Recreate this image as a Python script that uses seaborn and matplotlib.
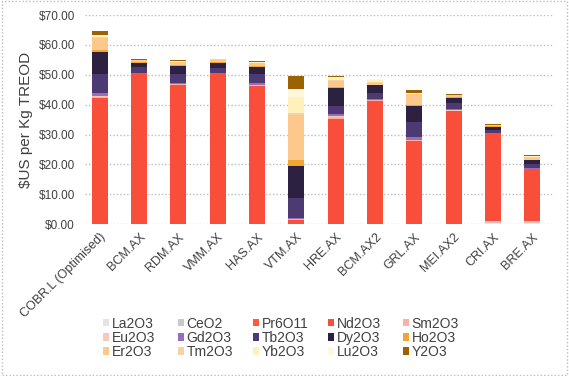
import numpy as np
import pandas as pd
import seaborn as sns
import matplotlib
matplotlib.use("Agg", force=True)
import matplotlib.pyplot as plt
from matplotlib.patches import Patch, Rectangle
from matplotlib.ticker import FuncFormatter

companies = ["COBR.L (Optimised)", "BCM.AX", "RDM.AX", "VMM.AX", "HAS.AX", "VTM.AX",
             "HRE.AX", "BCM.AX2", "GRL.AX", "MEI.AX2", "CRI.AX", "BRE.AX"]
oxides = ["La2O3", "CeO2", "Pr6O11", "Nd2O3", "Sm2O3", "Eu2O3", "Gd2O3", "Tb2O3",
          "Dy2O3", "Ho2O3", "Er2O3", "Tm2O3", "Yb2O3", "Lu2O3", "Y2O3"]

# $US per kg TREOD contribution of each oxide, one value per company
La2O3 = [0.0, 0.0, 0.0, 0.0, 0.0, 0.0, 0.0, 0.0, 0.0, 0.0, 0.5, 0.5]
CeO2 = [0.0, 0.0, 0.0, 0.0, 0.0, 0.0, 0.0, 0.0, 0.0, 0.0, 0.6, 0.6]
Pr6O11 = [0.0, 0.0, 0.0, 0.0, 0.0, 0.0, 0.0, 0.0, 0.0, 0.0, 0.0, 0.0]
Nd2O3 = [42.3, 50.2, 46.5, 50.2, 46.2, 1.5, 35.3, 41.2, 27.8, 37.8, 29.0, 17.2]
Sm2O3 = [0.3, 0.1, 0.3, 0.1, 0.3, 0.2, 0.5, 0.2, 0.3, 0.2, 0.1, 0.1]
Eu2O3 = [0.2, 0.0, 0.1, 0.0, 0.1, 0.1, 0.3, 0.1, 0.2, 0.1, 0.0, 0.0]
Gd2O3 = [1.0, 0.4, 0.5, 0.4, 0.5, 0.4, 0.8, 0.5, 0.8, 0.5, 0.3, 0.3]
Tb2O3 = [6.5, 1.8, 3.0, 1.7, 3.0, 6.6, 2.8, 1.9, 5.0, 1.8, 1.0, 1.4]
Dy2O3 = [7.4, 1.6, 2.6, 1.6, 2.6, 10.7, 5.9, 2.6, 5.3, 1.8, 1.1, 1.3]
Ho2O3 = [0.5, 0.2, 0.2, 0.2, 0.2, 1.9, 0.3, 0.2, 0.5, 0.2, 0.1, 0.2]
Er2O3 = [4.0, 0.6, 1.0, 0.7, 1.0, 15.0, 2.0, 0.4, 3.5, 0.8, 0.5, 0.6]
Tm2O3 = [0.5, 0.2, 0.2, 0.3, 0.2, 0.7, 0.4, 0.4, 0.3, 0.1, 0.1, 0.2]
Yb2O3 = [0.5, 0.0, 0.1, 0.0, 0.1, 5.5, 0.6, 0.8, 0.2, 0.0, 0.0, 0.4]
Lu2O3 = [0.1, 0.0, 0.0, 0.0, 0.0, 2.6, 0.2, 0.2, 0.1, 0.0, 0.0, 0.1]
Y2O3 = [1.3, 0.1, 0.3, 0.05, 0.3, 4.4, 0.6, 0.1, 1.0, 0.1, 0.1, 0.1]

values = [La2O3, CeO2, Pr6O11, Nd2O3, Sm2O3, Eu2O3, Gd2O3, Tb2O3,
          Dy2O3, Ho2O3, Er2O3, Tm2O3, Yb2O3, Lu2O3, Y2O3]
colors = ["#e4e4e4", "#c8c8c8", "#ff5a3a", "#f84e3a", "#f7b2a6", "#f9c8bc",
          "#9b6db8", "#4e3a72", "#2c2140", "#f0a632", "#fcc88c", "#f6d3a6",
          "#fff1bc", "#fff7de", "#9a6200"]

sns.set_theme(style="white")
plt.rcParams["font.family"] = ["Liberation Sans", "DejaVu Sans"]
text_col = "#404040"

fig = plt.figure(figsize=(5.69, 3.76), dpi=100)
ax = fig.add_axes([0.149, 0.404, 0.823, 0.556])

bottom = np.zeros(len(companies))
for name, vals, col in zip(oxides, values, colors):
    sns.barplot(x=companies, y=vals, bottom=bottom, color=col, saturation=1,
                width=0.41, linewidth=0, ax=ax, errorbar=None)
    bottom = bottom + np.array(vals)

ax.set_ylim(0, 70)
ax.set_xlim(-0.38, 11.53)
ax.set_yticks(np.arange(0, 71, 10))
ax.yaxis.set_major_formatter(FuncFormatter(lambda v, p: f"${v:.2f}"))
ax.yaxis.grid(True, color="#bdbdbd", linestyle=(0, (1, 1.5)), linewidth=1)
ax.set_axisbelow(True)
for s in ax.spines.values():
    s.set_visible(False)
ax.tick_params(axis="both", length=0, labelsize=9, colors=text_col)
ax.tick_params(axis="y", labelsize=8.5, pad=7)
ax.tick_params(axis="x", pad=5)
ax.set_xticks(range(len(companies)))
ax.set_xticklabels(companies, rotation=45, ha="right", rotation_mode="anchor")
ax.set_xlabel("")
ax.set_ylabel("$US per Kg TREOD", fontsize=11, color=text_col, labelpad=4)

# legend: 3 rows x 5 evenly spaced columns, filled row by row
nrow, ncol = 3, 5
for c in range(ncol):
    idx = [r * ncol + c for r in range(nrow)]
    handles = [Patch(facecolor=colors[i], edgecolor="none", label=oxides[i]) for i in idx]
    leg = fig.legend(handles=handles, ncol=1, loc="upper left",
                     bbox_to_anchor=((97 + 75 * c) / 569, 1 - 311 / 376),
                     frameon=False, fontsize=10, handlelength=0.45, handleheight=0.45,
                     handletextpad=0.2, labelspacing=0.02, borderaxespad=0,
                     labelcolor=text_col)

fig.patches.append(Rectangle((0.003, 0.003), 0.994, 0.994, transform=fig.transFigure,
                             fill=False, edgecolor="#bdbdbd", linestyle=(0, (1, 1.5)),
                             linewidth=1))

fig.savefig("out.png", dpi=100)
